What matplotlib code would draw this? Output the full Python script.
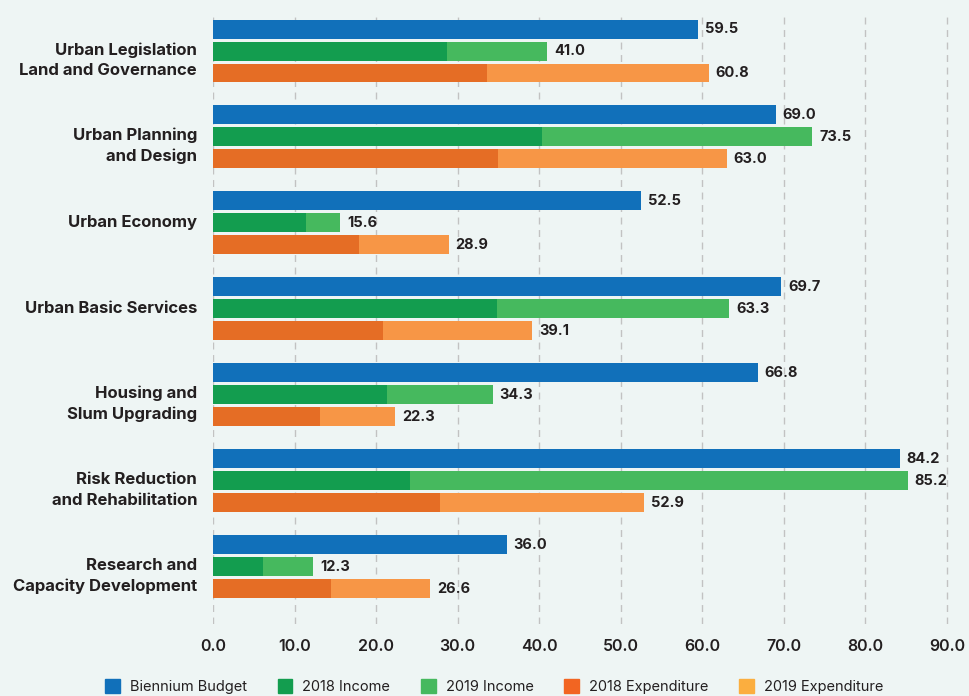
import numpy as np
import matplotlib
matplotlib.use("Agg")
import matplotlib.pyplot as plt
from matplotlib.patches import Patch
from matplotlib.transforms import offset_copy

plt.rcParams['font.family'] = ['Inter', 'DejaVu Sans']

categories = [
    "Urban Legislation\nLand and Governance",
    "Urban Planning\nand Design",
    "Urban Economy",
    "Urban Basic Services",
    "Housing and\nSlum Upgrading",
    "Risk Reduction\nand Rehabilitation",
    "Research and\nCapacity Development",
]
budget = [59.5, 69.0, 52.5, 69.7, 66.8, 84.2, 36.0]
income_2018 = [28.7, 40.3, 11.4, 34.8, 21.3, 24.2, 6.1]
income_total = [41.0, 73.5, 15.6, 63.3, 34.3, 85.2, 12.3]
exp_2018 = [33.6, 34.9, 17.9, 20.8, 13.1, 27.8, 14.5]
exp_total = [60.8, 63.0, 28.9, 39.1, 22.3, 52.9, 26.6]
xticks = [0, 10, 20, 30, 40, 50, 60, 70, 80, 90]

income_2019 = [t - a for t, a in zip(income_total, income_2018)]
exp_2019 = [t - a for t, a in zip(exp_total, exp_2018)]

c_budget = "#1170BA"
c_inc18 = "#139D4F"
c_inc19 = "#46B95E"
c_exp18 = "#E56D25"
c_exp19 = "#F79646"
txt = "#231F20"
bg = "#EEF5F4"

fig = plt.figure(figsize=(9.69, 6.96), dpi=100, facecolor=bg)
ax = fig.add_axes([213 / 969, 1 - 624 / 696, 756 / 969, 608 / 696])
ax.set_facecolor(bg)

y = np.arange(len(categories))
off = 22 / 86
h = 19 / 86

ax.barh(y - off, budget, height=h, color=c_budget)
ax.barh(y, income_2018, height=h, color=c_inc18)
ax.barh(y, income_2019, left=income_2018, height=h, color=c_inc19)
ax.barh(y + off, exp_2018, height=h, color=c_exp18)
ax.barh(y + off, exp_2019, left=exp_2018, height=h, color=c_exp19)

val_tr = offset_copy(ax.transData, fig=fig, x=7, y=0, units='dots')
for i in range(len(categories)):
    for v, yy in ((budget[i], y[i] - off), (income_total[i], y[i]), (exp_total[i], y[i] + off)):
        ax.text(v, yy, f"{v:.1f}", transform=val_tr, ha='left', va='center',
                fontsize=10.5, fontweight='bold', color=txt)

for i, cat in enumerate(categories):
    dy = -9 if "\n" in cat else 0
    tr = offset_copy(ax.get_yaxis_transform(), fig=fig, x=-16, y=dy, units='dots')
    ax.text(0, y[i], cat, transform=tr, ha='right', va='center', fontsize=12,
            fontweight='bold', color=txt, linespacing=1.42, multialignment='right')

ax.set_xlim(0, 92.7)
ax.set_ylim(6.663, -0.407)
ax.set_yticks([])
ax.set_xticks(xticks)
ax.set_xticklabels([f"{t:.1f}" for t in xticks], fontsize=11.5, color=txt, fontweight='semibold')
ax.tick_params(axis='x', length=0, pad=11)
for s in ax.spines.values():
    s.set_visible(False)
ax.set_axisbelow(True)
ax.xaxis.grid(True, color='#c2c2c2', linestyle=(0, (5, 4)), linewidth=1)

handles = [Patch(color=c) for c in (c_budget, c_inc18, c_inc19, "#F26522", "#FBAE3F")]
labels = ["Biennium Budget", "2018 Income", "2019 Income", "2018 Expenditure", "2019 Expenditure"]
fig.legend(handles, labels, loc='lower center', bbox_to_anchor=(0.51, -0.016), ncol=5,
           frameon=False, fontsize=10.5, handlelength=1.0, handleheight=1.0,
           handletextpad=0.7, columnspacing=2.1, labelcolor=txt)

fig.savefig("out.png", dpi=100, facecolor=bg)
